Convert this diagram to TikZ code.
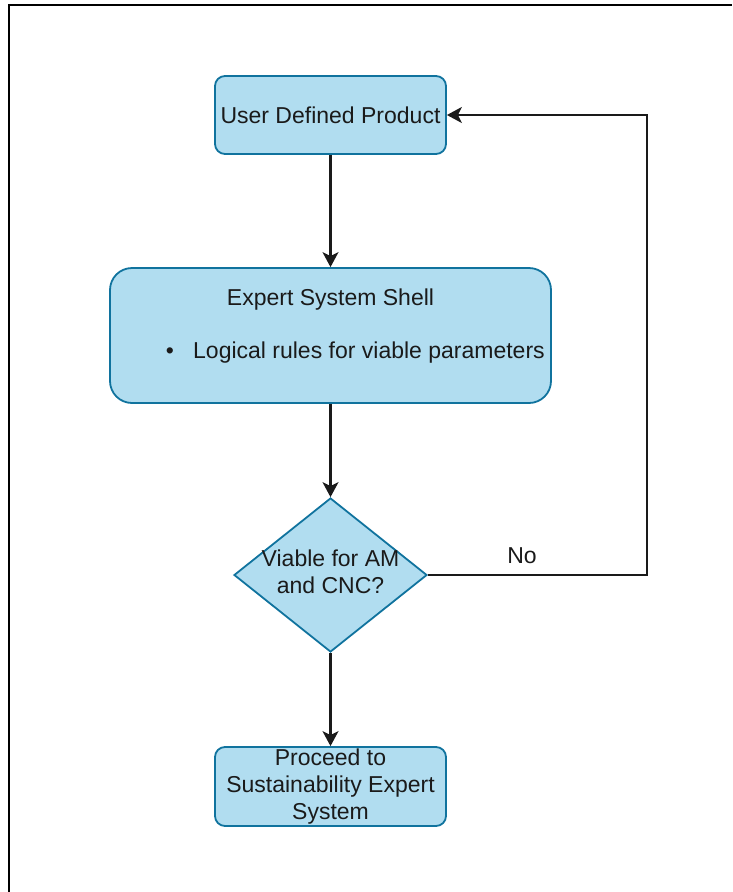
\documentclass[tikz,border=0pt]{standalone}
\usepackage{fontspec}
\setmainfont{Liberation Sans}
\usetikzlibrary{shapes.geometric,arrows.meta}
\definecolor{boxfill}{HTML}{B1DDF0}
\definecolor{boxline}{HTML}{10739E}
\definecolor{ink}{HTML}{1A1A1A}
\tikzset{
  txt/.style={font=\fontsize{23}{27}\selectfont, text=ink},
  box/.style={draw=boxline, fill=boxfill, line width=1.8pt, inner sep=0pt, txt, align=center},
  flow/.style={draw=ink, line width=2.2pt, -{Stealth[length=15pt,width=16pt,inset=4pt]}},
}
\begin{document}
\begin{tikzpicture}[x=1pt,y=-1pt]
\useasboundingbox (0,0) rectangle (732,892);
% open frame along the top and left edges
\draw[line width=2.6pt, black] (9,892) -- (9,5) -- (732,5);

% process boxes
\node[box, rounded corners=10pt, minimum width=231pt, minimum height=78pt] (udp) at (330.5,115) {User Defined Product};
\node[box, rounded corners=22pt, minimum width=441pt, minimum height=135pt] (ess) at (330.5,335.5) {};
\node[txt] (esstitle) at (330.5,300) {Expert System Shell};
\node[txt, inner sep=0pt, anchor=base west] (essbullet) at (193,358) {Logical rules for viable parameters};
\node[txt, inner sep=0pt, anchor=base] (dot) at (170,358) {•};

% decision
\node[diamond, draw=boxline, fill=boxfill, line width=1.8pt, inner sep=0pt, minimum width=193pt, minimum height=154pt] (dec) at (330.5,575) {};
\node[txt, align=center] (dectext) at (330.5,572) {Viable for AM\\and CNC?};

\node[box, rounded corners=10pt, minimum width=231pt, minimum height=79pt] (next) at (330.5,786.5) {Proceed to\\Sustainability Expert\\System};

% connectors
\draw[flow] (udp.south) -- (ess.north);
\draw[flow] (ess.south) -- (dec.north);
\draw[flow] (dec.south) -- (next.north);
\coordinate (loop) at (647,575);
\draw[flow] (dec.east) -- (loop) |- (udp.east);
\node[txt] (no) at (522,556) {No};
\end{tikzpicture}
\end{document}
